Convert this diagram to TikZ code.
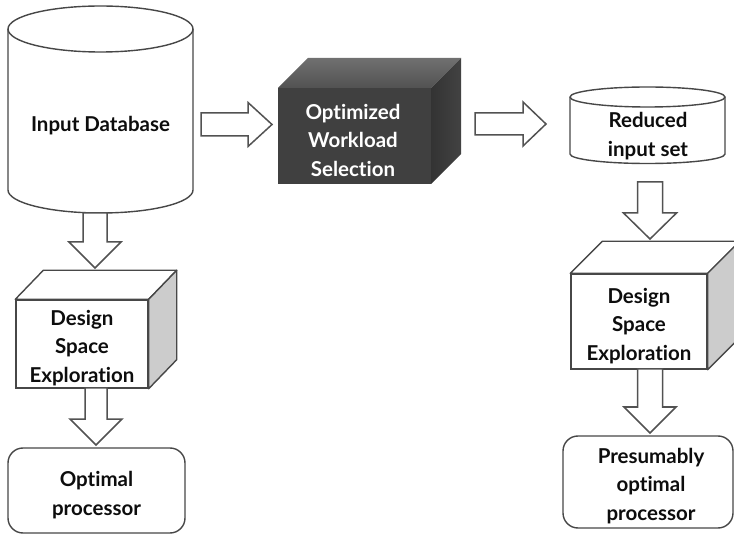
\documentclass[tikz,border=0pt]{standalone}
\usepackage{fontspec}
\setmainfont{Lato}[Ligatures=NoCommon]
\usetikzlibrary{calc}

% hollow block arrow pointing down: start point #1, tip #2,
% half shaft width #3, half head width #4, head length #5 (pt)
\newcommand\downblock[5]{%
  \draw[blockarrow] let \p1=(#1), \p2=(#2) in
    (\x2-#3pt,\y1) -- (\x2+#3pt,\y1) -- (\x2+#3pt,\y2+#5pt) -- (\x2+#4pt,\y2+#5pt)
    -- (\x2,\y2) -- (\x2-#4pt,\y2+#5pt) -- (\x2-#3pt,\y2+#5pt) -- cycle;}
% hollow block arrow pointing right
\newcommand\rightblock[5]{%
  \draw[blockarrow] let \p1=(#1), \p2=(#2) in
    (\x1,\y2+#3pt) -- (\x2-#5pt,\y2+#3pt) -- (\x2-#5pt,\y2+#4pt) -- (\x2,\y2)
    -- (\x2-#5pt,\y2-#4pt) -- (\x2-#5pt,\y2-#3pt) -- (\x1,\y2-#3pt) -- cycle;}

\begin{document}
\begin{tikzpicture}[x=1pt,y=-1pt,
  outline/.style={draw=black!72, line width=1.4pt},
  blockarrow/.style={draw=black!68, line width=1.5pt, fill=white, line join=miter},
  txt/.style={font=\fontsize{20.5}{28.5}\selectfont\bfseries, align=center, text=black!95},
  front/.style={outline, fill=white, inner sep=0pt},
  roundbox/.style={outline, fill=white, rounded corners=15pt, inner sep=0pt},
  sideface/.style={outline, fill=black!20, line join=round},
  topface/.style={outline, fill=white, line join=round}
]
\useasboundingbox (0,0) rectangle (734,537);
\clip (0,0) rectangle (734,537);

% ---- Input Database (cylinder) ----
\draw[outline, fill=white] (8,29) -- (8,190)
  arc[start angle=180, end angle=0, x radius=92.5, y radius=23] -- (193,29)
  arc[start angle=0, end angle=-180, x radius=92.5, y radius=23] -- cycle;
\draw[outline] (8,29) arc[start angle=180, end angle=0, x radius=92.5, y radius=23];
\node[txt] (db) at (100.5,126) {Input Database};
\coordinate (dbbottom) at (95,213);
\coordinate (dbright) at (201,124.5);

% ---- Optimized Workload Selection (dark box) ----
\shade[top color=black!56, bottom color=black!68] (278,88) -- (308,58) -- (461,58) -- (431,88) -- cycle;
\shade[left color=black!80, right color=black!74] (431,88) -- (461,58) -- (461,154) -- (431,184) -- cycle;
\node[fill=black!75, minimum width=153pt, minimum height=96pt, inner sep=0pt] (ows) at (354.5,136) {};
\node[txt, text=white] (owstext) at (353,140) {Optimized\\Workload\\Selection};
\coordinate (owsleft) at (272,124.5);
\coordinate (owsright) at (475,124);

% ---- Reduced input set (flat cylinder) ----
\draw[outline, fill=white] (570,97) -- (570,154)
  arc[start angle=180, end angle=0, x radius=77.5, y radius=9.5] -- (725,97)
  arc[start angle=0, end angle=-180, x radius=77.5, y radius=10] -- cycle;
\draw[outline] (570,97) arc[start angle=180, end angle=0, x radius=77.5, y radius=10];
\node[txt] (red) at (648,136) {Reduced\\input set};
\coordinate (redleft) at (546,124);
\coordinate (redbottom) at (650,182);

% ---- Design Space Exploration (left) ----
\node[front, minimum width=132pt, minimum height=88pt] (dse1) at (82,344) {};
\draw[topface] (dse1.north west) -- ++(28,-29) -- ($(dse1.north east)+(28,-29)$) -- (dse1.north east) -- cycle;
\draw[sideface] (dse1.north east) -- ++(28,-29) -- ($(dse1.south east)+(28,-29)$) -- (dse1.south east) -- cycle;
\node[txt] (dse1text) at (82,348) {Design\\Space\\Exploration};
\coordinate (dse1top) at (95,268);
\coordinate (dse1bottom) at (96,388);

% ---- Design Space Exploration (right) ----
\node[front, minimum width=136pt, minimum height=95pt] (dse2) at (639,321.5) {};
\draw[topface] (dse2.north west) -- ++(32,-32) -- ($(dse2.north east)+(32,-32)$) -- (dse2.north east) -- cycle;
\draw[sideface] (dse2.north east) -- ++(32,-32) -- ($(dse2.south east)+(32,-32)$) -- (dse2.south east) -- cycle;
\node[txt] (dse2text) at (639,326) {Design\\Space\\Exploration};
\coordinate (dse2top) at (650,239);
\coordinate (dse2bottom) at (650,369);

% ---- results ----
\node[roundbox, minimum width=177pt, minimum height=85pt] (opt1) at (96.5,490.5) {};
\node[txt] (opt1text) at (96.5,495) {Optimal\\processor};
\node[roundbox, minimum width=170pt, minimum height=92pt] (opt2) at (648,482) {};
\node[txt] (opt2text) at (651,486) {Presumably\\optimal\\processor};
\coordinate (opt1top) at (96,445);
\coordinate (opt2top) at (650,433);

% ---- connectors ----
\downblock{dbbottom}{dse1top}{12}{26}{26}
\downblock{dse1bottom}{opt1top}{11}{26}{26}
\rightblock{dbright}{owsleft}{11.5}{22}{24}
\rightblock{owsright}{redleft}{11}{22}{23}
\downblock{redbottom}{dse2top}{12.5}{26.5}{26}
\downblock{dse2bottom}{opt2top}{12.5}{26}{26}
\end{tikzpicture}
\end{document}
